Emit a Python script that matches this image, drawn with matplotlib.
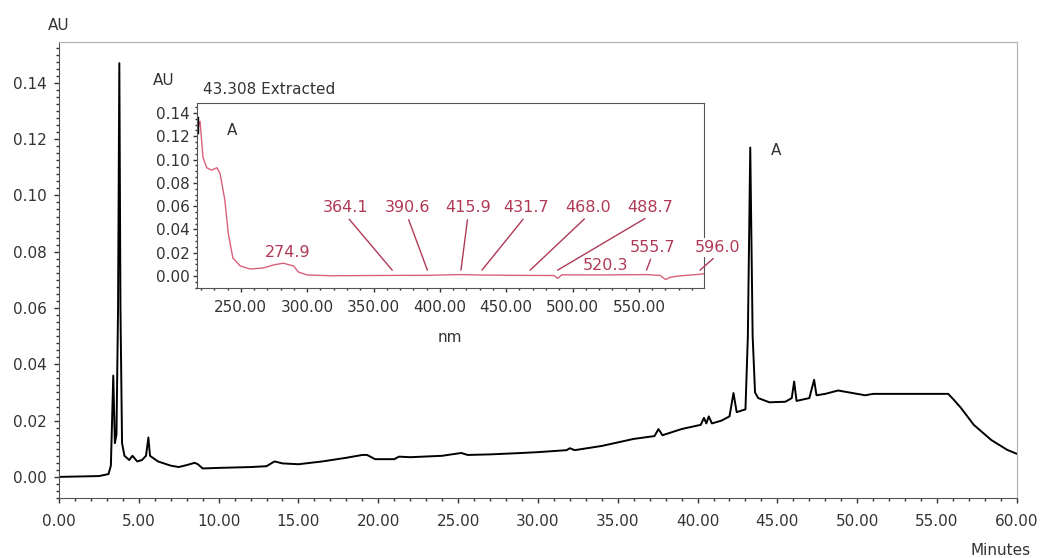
import numpy as np
import matplotlib
matplotlib.use("Agg")
from matplotlib import pyplot as plt
from matplotlib.ticker import MultipleLocator, FormatStrFormatter

# main chromatogram (minutes, AU)
rt = [0.0, 2.5, 3.1, 3.25, 3.4, 3.5, 3.6, 3.7, 3.78, 3.85, 3.95, 4.1, 4.4, 4.6, 4.9,
      5.2, 5.45, 5.6, 5.7, 6.2, 7.0, 7.5, 8.0, 8.5, 8.7, 9.0, 10.0, 12.0, 13.0, 13.5,
      14.0, 15.0, 16.5, 18.0, 19.0, 19.3, 19.8, 21.0, 21.3, 22.0, 24.0, 25.2, 25.6,
      27.0, 29.0, 30.0, 31.8, 32.0, 32.3, 34.0, 36.0, 37.3, 37.55, 37.8, 39.0, 40.2,
      40.4, 40.55, 40.7, 40.9, 41.5, 42.0, 42.25, 42.45, 43.0, 43.15, 43.3, 43.45,
      43.6, 43.8, 44.5, 45.5, 45.9, 46.05, 46.2, 47.0, 47.3, 47.45, 48.0, 48.8, 50.0,
      50.5, 51.0, 55.7, 56.05, 56.5, 57.3, 58.4, 59.4, 60.0]
au = [0.0, 0.0003, 0.001, 0.004, 0.036, 0.012, 0.015, 0.06, 0.147, 0.06, 0.012,
      0.0075, 0.006, 0.0075, 0.0055, 0.006, 0.0075, 0.014, 0.0075, 0.0055, 0.004,
      0.0035, 0.0042, 0.005, 0.0045, 0.003, 0.0032, 0.0035, 0.0038, 0.0055, 0.0048,
      0.0045, 0.0055, 0.0068, 0.0078, 0.0078, 0.0063, 0.0063, 0.0072, 0.007, 0.0075,
      0.0085, 0.0078, 0.008, 0.0085, 0.0088, 0.0095, 0.0102, 0.0095, 0.011, 0.0135,
      0.0145, 0.017, 0.0148, 0.017, 0.0185, 0.021, 0.019, 0.0215, 0.019, 0.02,
      0.0215, 0.0298, 0.023, 0.024, 0.05, 0.117, 0.05, 0.03, 0.028, 0.0265, 0.0267,
      0.028, 0.0339, 0.027, 0.028, 0.0345, 0.029, 0.0295, 0.0307, 0.0295, 0.029,
      0.0295, 0.0295, 0.0274, 0.0245, 0.0185, 0.0131, 0.0096, 0.0082]

# extracted spectrum at 43.308 min (nm, AU)
wl = [218.0, 219.3, 221.5, 224.3, 228.0, 232.0, 234.4, 238.0, 240.5, 244.0, 249.6,
      257.0, 267.0, 274.6, 282.0, 289.7, 293.5, 300.0, 317.8, 364.1, 390.6, 415.9,
      431.7, 468.0, 486.0, 488.7, 492.0, 520.3, 555.7, 566.0, 570.0, 574.0, 580.0,
      596.0, 599.0]
spec = [0.128, 0.133, 0.102, 0.093, 0.091, 0.093, 0.088, 0.065, 0.037, 0.0155,
        0.0086, 0.006, 0.0069, 0.0095, 0.011, 0.0086, 0.0034, 0.0009, 0.0002, 0.0005,
        0.0006, 0.0012, 0.0008, 0.0005, 0.0004, -0.002, 0.001, 0.0009, 0.0012, 0.0005,
        -0.003, -0.001, 0.0, 0.0015, 0.002]

# spectrum peak labels: text, wavelength, label x (nm), label y (AU), with leader line
peak_txt = ["364.1", "390.6", "415.9", "431.7", "468.0", "488.7", "555.7", "596.0"]
peak_nm = [364.1, 390.6, 415.9, 431.7, 468.0, 488.7, 555.7, 596.0]
lab_nm = [329.3, 375.3, 421.2, 465.0, 511.7, 558.4, 560.0, 609.0]
lab_au = [0.052, 0.052, 0.052, 0.052, 0.052, 0.052, 0.018, 0.018]
# labels without leader line
free_txt = ["274.9", "520.3"]
free_nm = [285.0, 524.5]
free_au = [0.014, 0.003]

ink = "#333333"
red_line = "#d9607a"
red_txt = "#b03a55"
fs = 11

plt.rcParams["font.family"] = ["DejaVu Sans"]
plt.rcParams["font.size"] = fs

fig = plt.figure(figsize=(10.44, 5.58), dpi=100)
ax = fig.add_axes([0.0565, 0.1075, 0.9175, 0.8172])
ax.plot(rt, au, color="black", lw=1.4)
ax.set_xlim(0, 60)
ax.set_ylim(-0.0075, 0.1545)
ax.xaxis.set_major_locator(MultipleLocator(5))
ax.xaxis.set_minor_locator(MultipleLocator(1))
ax.yaxis.set_major_locator(MultipleLocator(0.02))
ax.yaxis.set_minor_locator(MultipleLocator(0.0025))
ax.xaxis.set_major_formatter(FormatStrFormatter("%.2f"))
ax.yaxis.set_major_formatter(FormatStrFormatter("%.2f"))
ax.tick_params(which="both", direction="out", colors=ink, labelsize=fs)
ax.tick_params(which="major", length=3.5, width=1)
ax.tick_params(which="minor", length=2, width=1)
ax.tick_params(axis="x", pad=8)
ax.tick_params(axis="y", pad=5)
for s in ["left", "bottom"]:
    ax.spines[s].set_color("#555555")
for s in ["top", "right"]:
    ax.spines[s].set_color("#b0b0b0")
ax.text(44.6, 0.116, "A", color=ink, fontsize=fs, va="center")
fig.text(0.046, 0.955, "AU", color=ink, fontsize=fs, va="center")
fig.text(0.987, 0.0, "Minutes", color=ink, fontsize=fs, ha="right", va="bottom")

# inset spectrum
ins = fig.add_axes([0.1887, 0.4839, 0.4856, 0.3315])
ins.plot(wl, spec, color=red_line, lw=1.0)
ins.plot([218.0, 218.0], [0.123, 0.137], color="black", lw=1.0)
ins.set_xlim(217, 599)
ins.set_ylim(-0.0103, 0.1486)
ins.set_xticks([250, 300, 350, 400, 450, 500, 550])
ins.xaxis.set_minor_locator(MultipleLocator(10))
ins.yaxis.set_major_locator(MultipleLocator(0.02))
ins.yaxis.set_minor_locator(MultipleLocator(0.005))
ins.xaxis.set_major_formatter(FormatStrFormatter("%.2f"))
ins.yaxis.set_major_formatter(FormatStrFormatter("%.2f"))
ins.tick_params(which="both", direction="out", colors=ink, labelsize=fs)
ins.tick_params(which="major", length=3, width=1)
ins.tick_params(which="minor", length=1.5, width=1)
ins.tick_params(axis="x", pad=6)
ins.tick_params(axis="y", pad=2)
for s in ins.spines.values():
    s.set_color("#555555")
ins.text(239.6, 0.125, "A", color=ink, fontsize=fs, va="center")

for t, x0, lx, ly in zip(peak_txt, peak_nm, lab_nm, lab_au):
    ins.annotate(t, xy=(x0, 0.005), xytext=(lx, ly), color=red_txt, fontsize=11.5,
                 ha="center", va="bottom", annotation_clip=False,
                 bbox=dict(boxstyle="square,pad=0.1", fc="white", ec="none"),
                 arrowprops=dict(arrowstyle="-", color=red_txt, lw=1.0,
                                 shrinkA=2, shrinkB=0, relpos=(0.5, 0)))
for t, lx, ly in zip(free_txt, free_nm, free_au):
    ins.text(lx, ly, t, color=red_txt, fontsize=11.5, ha="center", va="bottom")

fig.text(0.1466, 0.855, "AU", color=ink, fontsize=fs, va="center")
fig.text(0.194, 0.8405, "43.308 Extracted", color=ink, fontsize=fs, va="center")
fig.text(0.431, 0.395, "nm", color=ink, fontsize=fs, ha="center", va="center")

fig.savefig("out.png", dpi=100)
